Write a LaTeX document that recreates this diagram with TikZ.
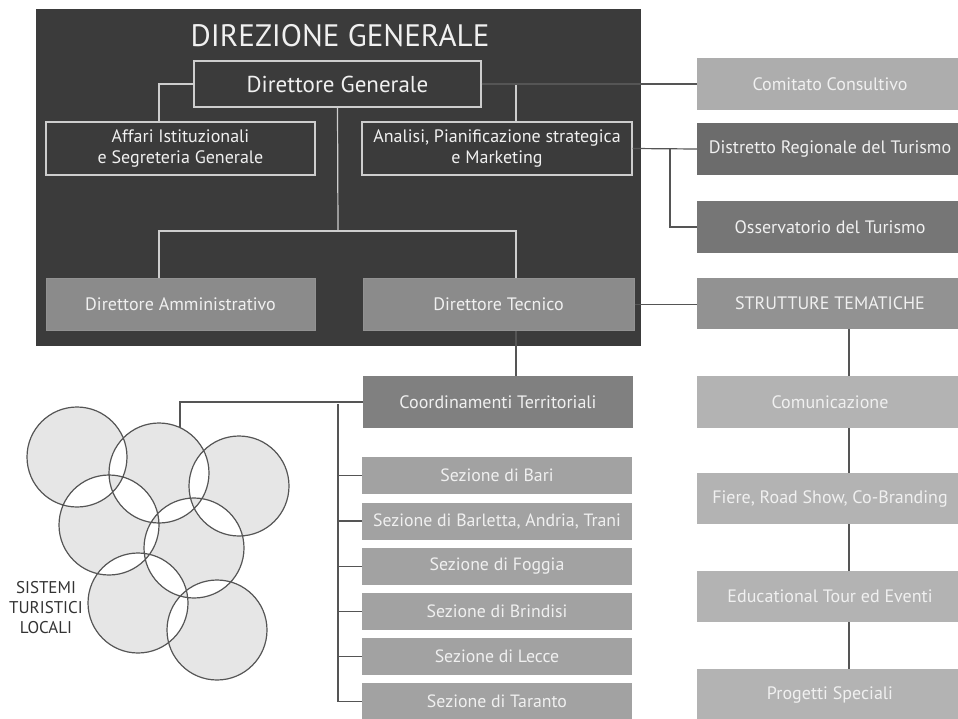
\documentclass[tikz,border=0pt]{standalone}
\usepackage{fontspec}
\setmainfont{PT Sans}

\definecolor{dgdark}{HTML}{3B3B3B}
\definecolor{dgline}{HTML}{CDCDCD}
\definecolor{paletext}{HTML}{F0F0F0}
\definecolor{dirgray}{HTML}{8B8B8B}
\definecolor{comgray}{HTML}{ADADAD}
\definecolor{distgray}{HTML}{6C6C6C}
\definecolor{ossgray}{HTML}{767676}
\definecolor{strgray}{HTML}{929292}
\definecolor{temgray}{HTML}{B3B3B3}
\definecolor{coogray}{HTML}{808080}
\definecolor{sezgray}{HTML}{A2A2A2}
\definecolor{linkgray}{HTML}{555555}
\definecolor{stlfill}{HTML}{E6E6E6}

\begin{document}
\begin{tikzpicture}[x=1pt, y=-1pt,
    outbox/.style={draw=dgline, line width=1.4pt, fill=dgdark, text=paletext, inner sep=0pt,
      font=\fontsize{18}{21}\selectfont, align=center},
    graybox/.style={fill=#1, text=paletext, inner sep=0pt, minimum width=266pt,
      font=\fontsize{18}{21}\selectfont},
    sezbox/.style={fill=sezgray, text=paletext, inner sep=0pt, minimum width=270pt,
      minimum height=37pt, font=\fontsize{17.8}{21}\selectfont},
    inlink/.style={draw=dgline, line width=1.2pt},
    link/.style={draw=linkgray, line width=1.2pt}]

    \useasboundingbox (0,0) rectangle (958,718);
    \clip (0,0) rectangle (958,718);

    % direzione generale
    \fill [dgdark] (36,9) rectangle (641,346);
    \node [text=paletext, font=\fontsize{31}{31}\selectfont] (titolo) at (340,36) {DIREZIONE GENERALE};

    \node [outbox, minimum width=287pt, minimum height=46pt, font=\fontsize{23}{26}\selectfont]
        (dg) at (337.5,84) {Direttore Generale};
    \node [outbox, minimum width=269pt, minimum height=53pt] (affari) at (180.5,148.5)
        {Affari Istituzionali\\e Segreteria Generale};
    \node [outbox, minimum width=270pt, minimum height=53pt] (analisi) at (497,148.5)
        {Analisi, Pianificazione strategica\\e Marketing};

    \node [graybox=dirgray, draw=strgray, line width=1pt, minimum width=269pt, minimum height=52pt]
        (diramm) at (180.5,304.5) {Direttore Amministrativo};
    \node [graybox=dirgray, draw=strgray, line width=1pt, minimum width=271pt, minimum height=52pt]
        (dirtec) at (498.5,304.5) {Direttore Tecnico};

    \coordinate (split) at (338,231);
    \draw [inlink] (dg.west) -| ([xshift=-21.5pt]affari.north);
    \draw [inlink] ([xshift=19pt]analisi.north) |- (dg.east);
    \draw [inlink] (dg.south) -- (split);
    \draw [inlink] ([xshift=-21.5pt]diramm.north) |- (split) -| ([xshift=17.5pt]dirtec.north);

    % organi a destra
    \node [graybox=comgray, minimum height=52pt] (comitato) at (830,84) {Comitato Consultivo};
    \node [graybox=distgray, minimum height=52pt] (distretto) at (830,149) {Distretto Regionale del Turismo};
    \node [graybox=ossgray, minimum height=52pt] (osservatorio) at (830,227) {Osservatorio del Turismo};

    \coordinate (obranch) at (670,149);
    \draw [link] (dg.east) -- (comitato.west);
    \draw [link] (analisi.east) -- (distretto.west);
    \draw [link] (obranch) |- (osservatorio.west);

    % strutture tematiche
    \node [graybox=strgray, minimum height=51pt] (strutture) at (830,303.5) {STRUTTURE TEMATICHE};
    \node [graybox=temgray, minimum height=52pt] (comunicazione) at (830,402) {Comunicazione};
    \node [graybox=temgray, minimum height=51pt] (fiere) at (830,498.5) {Fiere, Road Show, Co-Branding};
    \node [graybox=temgray, minimum height=51pt] (educational) at (830,596.5) {Educational Tour ed Eventi};
    \node [graybox=temgray, minimum height=51pt] (progetti) at (830,694.5) {Progetti Speciali};

    \draw [link] (dirtec.east) -- (dirtec.east -| strutture.west);
    \draw [link] ([xshift=19pt]strutture.south) -- ([xshift=19pt]comunicazione.north);
    \draw [link] ([xshift=19pt]comunicazione.south) -- ([xshift=19pt]fiere.north);
    \draw [link] ([xshift=19pt]fiere.south) -- ([xshift=19pt]educational.north);
    \draw [link] ([xshift=19pt]educational.south) -- ([xshift=19pt]progetti.north);

    % coordinamenti territoriali
    \node [graybox=coogray, minimum width=270pt, minimum height=52pt] (coord) at (498,402)
        {Coordinamenti Territoriali};
    \node [sezbox] (bari) at (497,475.5) {Sezione di Bari};
    \node [sezbox] (barletta) at (497,521) {Sezione di Barletta, Andria, Trani};
    \node [sezbox] (foggia) at (497,566.5) {Sezione di Foggia};
    \node [sezbox] (brindisi) at (497,611.5) {Sezione di Brindisi};
    \node [sezbox] (lecce) at (497,656.5) {Sezione di Lecce};
    \node [sezbox] (taranto) at (497,701.5) {Sezione di Taranto};

    \draw [link] ([xshift=17.5pt]dirtec.south) -- ([xshift=18pt]coord.north);

    % sistemi turistici locali
    \filldraw [fill=stlfill, draw=linkgray, line width=1.2pt, even odd rule]
        (77,457) circle (50pt) (159,473) circle (50pt) (239,486) circle (50pt)
        (109,525) circle (50pt) (194,548) circle (50pt) (138,603) circle (50pt)
        (217,630) circle (50pt);
    \node [text=black!80, align=center, font=\fontsize{17}{20}\selectfont] (stl) at (46,608)
        {SISTEMI\\TURISTICI\\LOCALI};

    \coordinate (stltop) at (180,428);
    \coordinate (spine) at (338,404);
    \draw [link] (coord.west) -| (stltop);
    \draw [link] (spine) -- (spine |- taranto.west);
    \draw [link] (bari.west) -- (bari.west -| spine);
    \draw [link] (barletta.west) -- (barletta.west -| spine);
    \draw [link] (foggia.west) -- (foggia.west -| spine);
    \draw [link] (brindisi.west) -- (brindisi.west -| spine);
    \draw [link] (lecce.west) -- (lecce.west -| spine);
    \draw [link] (taranto.west) -- (taranto.west -| spine);
\end{tikzpicture}
\end{document}
